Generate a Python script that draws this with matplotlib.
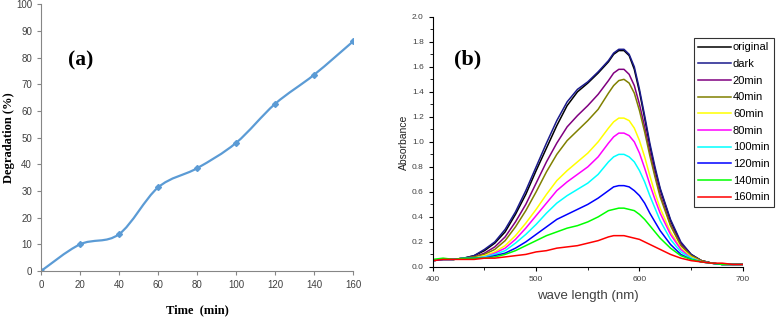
import matplotlib
matplotlib.use("Agg")
import matplotlib.pyplot as plt
from matplotlib.path import Path
from matplotlib.patches import PathPatch

# Panel (a): degradation vs time
time_min = [0, 20, 40, 60, 80, 100, 120, 140, 160]
degradation = [0, 10.0, 13.8, 31.3, 38.5, 48.0, 62.6, 73.5, 86.0]

# Panel (b): absorbance spectra
wavelength = [400, 410, 420, 430, 440, 450, 460, 470, 480, 490, 500, 510, 520,
              530, 540, 550, 560, 570, 575, 580, 585, 590, 595, 600, 605, 610,
              615, 620, 630, 640, 650, 660, 670, 680, 690, 700]
abs_original = [0.05, 0.06, 0.06, 0.07, 0.09, 0.13, 0.19, 0.28, 0.42, 0.58, 0.77, 0.95, 1.13,
                1.29, 1.40, 1.47, 1.55, 1.64, 1.70, 1.73, 1.73, 1.69, 1.58, 1.40, 1.19, 0.97,
                0.78, 0.62, 0.37, 0.19, 0.10, 0.05, 0.03, 0.02, 0.02, 0.02]
abs_dark = [0.05, 0.06, 0.06, 0.07, 0.09, 0.14, 0.20, 0.30, 0.44, 0.61, 0.80, 0.99, 1.17,
            1.32, 1.42, 1.48, 1.56, 1.65, 1.71, 1.74, 1.74, 1.70, 1.60, 1.42, 1.21, 0.99,
            0.80, 0.63, 0.38, 0.20, 0.10, 0.05, 0.03, 0.02, 0.02, 0.02]
abs_20 = [0.05, 0.06, 0.06, 0.07, 0.08, 0.11, 0.16, 0.24, 0.36, 0.50, 0.67, 0.84, 0.99,
          1.12, 1.21, 1.29, 1.38, 1.49, 1.55, 1.58, 1.58, 1.54, 1.45, 1.30, 1.12, 0.92,
          0.74, 0.58, 0.34, 0.18, 0.09, 0.05, 0.03, 0.02, 0.02, 0.02]
abs_40 = [0.05, 0.06, 0.06, 0.07, 0.08, 0.10, 0.14, 0.21, 0.32, 0.45, 0.60, 0.76, 0.90,
          1.01, 1.09, 1.17, 1.26, 1.39, 1.45, 1.49, 1.50, 1.47, 1.39, 1.25, 1.08, 0.89,
          0.72, 0.56, 0.33, 0.17, 0.09, 0.05, 0.03, 0.02, 0.02, 0.02]
abs_60 = [0.05, 0.06, 0.06, 0.07, 0.07, 0.09, 0.12, 0.17, 0.25, 0.35, 0.46, 0.58, 0.69,
          0.77, 0.84, 0.91, 1.00, 1.11, 1.16, 1.19, 1.19, 1.17, 1.11, 1.01, 0.88, 0.73,
          0.59, 0.47, 0.28, 0.15, 0.08, 0.04, 0.03, 0.02, 0.02, 0.02]
abs_80 = [0.05, 0.06, 0.06, 0.07, 0.07, 0.08, 0.11, 0.15, 0.22, 0.31, 0.41, 0.51, 0.61,
          0.68, 0.74, 0.80, 0.88, 0.99, 1.04, 1.07, 1.07, 1.05, 1.00, 0.91, 0.79, 0.66,
          0.54, 0.43, 0.26, 0.14, 0.07, 0.04, 0.03, 0.02, 0.02, 0.02]
abs_100 = [0.05, 0.06, 0.06, 0.07, 0.07, 0.08, 0.10, 0.13, 0.19, 0.26, 0.34, 0.43, 0.51,
           0.57, 0.62, 0.67, 0.74, 0.84, 0.88, 0.90, 0.90, 0.88, 0.84, 0.77, 0.68, 0.57,
           0.47, 0.37, 0.22, 0.12, 0.07, 0.04, 0.03, 0.02, 0.02, 0.02]
abs_120 = [0.05, 0.06, 0.06, 0.07, 0.07, 0.07, 0.09, 0.11, 0.15, 0.20, 0.26, 0.32, 0.38,
           0.42, 0.46, 0.50, 0.55, 0.61, 0.64, 0.65, 0.65, 0.64, 0.61, 0.57, 0.51, 0.43,
           0.36, 0.29, 0.18, 0.10, 0.06, 0.04, 0.03, 0.02, 0.02, 0.02]
abs_140 = [0.06, 0.07, 0.06, 0.07, 0.07, 0.07, 0.08, 0.10, 0.13, 0.17, 0.21, 0.25, 0.28,
           0.31, 0.33, 0.36, 0.40, 0.45, 0.46, 0.47, 0.47, 0.46, 0.45, 0.42, 0.38, 0.33,
           0.28, 0.23, 0.15, 0.09, 0.06, 0.04, 0.03, 0.02, 0.02, 0.02]
abs_160 = [0.05, 0.06, 0.06, 0.06, 0.06, 0.07, 0.07, 0.08, 0.09, 0.10, 0.12, 0.13, 0.15,
           0.16, 0.17, 0.19, 0.21, 0.24, 0.25, 0.25, 0.25, 0.24, 0.23, 0.22, 0.20, 0.18,
           0.16, 0.14, 0.10, 0.07, 0.05, 0.04, 0.03, 0.03, 0.02, 0.02]

spectra = [abs_original, abs_dark, abs_20, abs_40, abs_60, abs_80, abs_100,
           abs_120, abs_140, abs_160]
labels = ["original", "dark", "20min", "40min", "60min", "80min", "100min",
          "120min", "140min", "160min"]
colors = ["black", "#1a1a8c", "#800080", "#808000", "#ffff00", "#ff00ff",
          "#00ffff", "#0000ff", "#00ff00", "#ff0000"]


def smooth_path(xs, ys):
    # Excel-like smoothed line: Catmull-Rom segments as cubic Beziers
    verts = [(xs[0], ys[0])]
    codes = [Path.MOVETO]
    n = len(xs)
    for i in range(n - 1):
        x0, y0 = xs[max(i - 1, 0)], ys[max(i - 1, 0)]
        x1, y1 = xs[i], ys[i]
        x2, y2 = xs[i + 1], ys[i + 1]
        x3, y3 = xs[min(i + 2, n - 1)], ys[min(i + 2, n - 1)]
        c1 = (x1 + (x2 - x0) / 6, y1 + (y2 - y0) / 6)
        c2 = (x2 - (x3 - x1) / 6, y2 - (y3 - y1) / 6)
        verts += [c1, c2, (x2, y2)]
        codes += [Path.CURVE4] * 3
    return Path(verts, codes)


fig = plt.figure(figsize=(7.77, 3.17), dpi=100)
plt.rcParams["font.family"] = ["Liberation Sans", "DejaVu Sans"]

# ---- panel (a)
ax1 = fig.add_axes([0.0528, 0.145, 0.4015, 0.842])
line_col = "#5b9bd5"
ax1.add_patch(PathPatch(smooth_path(time_min, degradation), facecolor="none",
                        edgecolor=line_col, lw=1.6))
ax1.plot(time_min, degradation, ls="none", marker="D", ms=3, color=line_col)
ax1.set_xlim(0, 160)
ax1.set_ylim(0, 100)
ax1.set_xticks(range(0, 161, 20))
ax1.set_yticks(range(0, 101, 10))
for s in ["top", "right"]:
    ax1.spines[s].set_visible(False)
for s in ["left", "bottom"]:
    ax1.spines[s].set_color("#868686")
    ax1.spines[s].set_linewidth(0.8)
ax1.tick_params(colors="#868686", labelcolor="#404040", labelsize=7, length=3)
ax1.set_xlabel("Time  (min)", family="Liberation Serif", fontweight="bold",
               fontsize=9, labelpad=10)
ax1.set_ylabel("Degradation (%)", family="Liberation Serif", fontweight="bold",
               fontsize=9)
ax1.yaxis.set_label_coords(-0.085, 0.5)
ax1.text(13.8, 77, "(a)", family="Liberation Serif", fontweight="bold", fontsize=15.5)

# ---- panel (b)
ax2 = fig.add_axes([0.557, 0.158, 0.399, 0.789])
for spec, lab, col in zip(spectra, labels, colors):
    ax2.plot(wavelength, spec, color=col, lw=1.1, label=lab)
ax2.set_xlim(400, 700)
ax2.set_ylim(0, 2.0)
ax2.set_xticks([400, 500, 600, 700])
ax2.set_xticks([450, 550, 650], minor=True)
ax2.set_yticks([i / 5 for i in range(11)])
ax2.set_yticklabels(["%.1f" % (i / 5) for i in range(11)])
ax2.set_yticks([0.1 + 0.2 * i for i in range(10)], minor=True)
for s in ["top", "right"]:
    ax2.spines[s].set_visible(False)
ax2.tick_params(which="both", labelsize=6, labelcolor="#404040", length=3)
ax2.tick_params(which="minor", length=2)
ax2.set_xlabel("wave length (nm)", fontsize=9.5, color="#404040", labelpad=5)
ax2.set_ylabel("Absorbance", fontsize=7.5, color="#222222", labelpad=2)
ax2.text(421, 1.62, "(b)", family="Liberation Serif", fontweight="bold", fontsize=16)

leg = ax2.legend(loc="upper left", bbox_to_anchor=(694 / 777, 1 - 38 / 317),
                 bbox_transform=fig.transFigure, frameon=True, fancybox=False,
                 edgecolor="black", fontsize=8, handlelength=2.9,
                 handletextpad=0.2, borderpad=0.4, labelspacing=0.6,
                 borderaxespad=0)
leg.get_frame().set_linewidth(0.8)

fig.savefig("out.png", dpi=100)
